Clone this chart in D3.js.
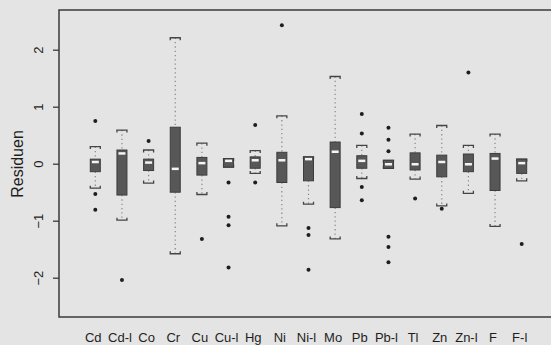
<!DOCTYPE html>
<html>
<head>
<meta charset="utf-8">
<script src="https://d3js.org/d3.v7.min.js"></script>
<style>
  body { margin: 0; background: #e4e4e4; overflow: hidden; }
  svg { display: block; font-family: "Liberation Sans", Arial, sans-serif; }
</style>
</head>
<body>
<script>
// element names along the x axis
var names = ["Cd", "Cd-l", "Co", "Cr", "Cu", "Cu-l", "Hg", "Ni", "Ni-l", "Mo", "Pb", "Pb-l", "Tl", "Zn", "Zn-l", "F", "F-l"];

// box statistics (residuals)
var whiskHi = [0.30, 0.59, 0.24, 2.21, 0.36, 0.09, 0.23, 0.84, 0.12, 1.53, 0.32, 0.06, 0.52, 0.67, 0.32, 0.52, 0.08];
var q3      = [0.08, 0.24, 0.08, 0.64, 0.11, 0.09, 0.12, 0.20, 0.12, 0.38, 0.14, 0.06, 0.19, 0.15, 0.17, 0.18, 0.08];
var med     = [0.03, 0.18, 0.02, -0.09, 0.01, 0.05, 0.06, 0.06, 0.08, 0.21, 0.05, -0.01, -0.01, 0.03, -0.01, 0.09, 0.01];
var q1      = [-0.14, -0.55, -0.12, -0.50, -0.20, -0.06, -0.08, -0.33, -0.30, -0.77, -0.08, -0.08, -0.11, -0.23, -0.14, -0.47, -0.17];
var whiskLo = [-0.43, -0.99, -0.34, -1.58, -0.54, -0.06, -0.17, -1.09, -0.71, -1.32, -0.26, -0.08, -0.27, -0.74, -0.52, -1.10, -0.30];

// outliers per element
var outliers = [
  [0.75, -0.53, -0.81],
  [-2.04],
  [0.40],
  [],
  [-1.32],
  [-0.33, -0.93, -1.08, -1.82],
  [0.68, -0.33],
  [2.43],
  [-1.13, -1.25, -1.86],
  [],
  [0.87, 0.53, -0.41, -0.64],
  [0.63, 0.42, 0.22, -1.28, -1.46, -1.73],
  [-0.61],
  [-0.79],
  [1.60],
  [],
  [-1.41]
];

var yTicks = [-2, -1, 0, 1, 2];

var width = 551, height = 345;
var plotL = 59, plotT = 10, plotB = 317, plotR = 580;

var svg = d3.select("body").append("svg")
  .attr("width", width)
  .attr("height", height);

var x = d3.scaleLinear().domain([1, 17]).range([95.3, 521.7]);
var y = d3.scaleLinear().domain([0, 1]).range([163.7, 106.7]);

var boxW = 10, capW = 10;

// frame (right side runs off the page, as in the scan)
svg.append("path")
  .attr("d", "M" + plotR + "," + plotT + "H" + plotL + "V" + plotB + "H" + plotR)
  .attr("fill", "none").attr("stroke", "#3a3a3a").attr("stroke-width", 1.5);

// y axis
var yAxis = d3.axisLeft(y).tickValues(yTicks).tickSize(6).tickFormat(d3.format("d"));
var ga = svg.append("g").attr("transform", "translate(" + plotL + ",0)").call(yAxis);
ga.select(".domain").remove();
ga.selectAll(".tick line").attr("stroke", "#3a3a3a").attr("stroke-width", 1.3);
ga.selectAll(".tick text")
  .attr("x", 0).attr("dy", 0)
  .attr("transform", "translate(-21,0) rotate(-90)")
  .attr("text-anchor", "middle")
  .attr("dominant-baseline", "central")
  .attr("fill", "#1e1e1e")
  .style("font-size", "13px");

svg.append("text")
  .attr("transform", "translate(17,164) rotate(-90)")
  .attr("text-anchor", "middle")
  .attr("dominant-baseline", "central")
  .attr("fill", "#1e1e1e")
  .style("font-size", "16px")
  .text("Residuen");

// x labels
svg.selectAll("text.xl")
  .data(names)
  .enter().append("text")
  .attr("class", "xl")
  .attr("x", function(d, i) { return x(i + 1) - 2; })
  .attr("y", 337)
  .attr("text-anchor", "middle")
  .attr("dominant-baseline", "central")
  .attr("fill", "#1e1e1e")
  .style("font-size", "13px")
  .text(function(d) { return d; });

var g = svg.selectAll("g.box")
  .data(names)
  .enter().append("g")
  .attr("class", "box")
  .attr("transform", function(d, i) { return "translate(" + x(i + 1) + ",0)"; });

// whiskers (dotted)
g.append("line")
  .attr("y1", function(d, i) { return y(whiskHi[i]); })
  .attr("y2", function(d, i) { return y(q3[i]); })
  .attr("stroke", "#888").attr("stroke-width", 1.2).attr("stroke-dasharray", "1.3,3");
g.append("line")
  .attr("y1", function(d, i) { return y(q1[i]); })
  .attr("y2", function(d, i) { return y(whiskLo[i]); })
  .attr("stroke", "#888").attr("stroke-width", 1.2).attr("stroke-dasharray", "1.3,3");

// staples
g.append("path")
  .attr("d", function(d, i) {
    var t = y(whiskHi[i]);
    return "M" + (-capW / 2) + "," + (t + 2.5) + "V" + t + "H" + (capW / 2) + "V" + (t + 2.5);
  })
  .attr("fill", "none").attr("stroke", "#444").attr("stroke-width", 1.3);
g.append("path")
  .attr("d", function(d, i) {
    var b = y(whiskLo[i]);
    return "M" + (-capW / 2) + "," + (b - 2.5) + "V" + b + "H" + (capW / 2) + "V" + (b - 2.5);
  })
  .attr("fill", "none").attr("stroke", "#444").attr("stroke-width", 1.3);

// boxes
g.append("rect")
  .attr("x", -boxW / 2)
  .attr("y", function(d, i) { return y(q3[i]); })
  .attr("width", boxW)
  .attr("height", function(d, i) { return Math.max(1, y(q1[i]) - y(q3[i])); })
  .attr("fill", "#575757").attr("stroke", "#3c3c3c").attr("stroke-width", 1);

// medians
g.append("line")
  .attr("x1", -boxW / 2 + 1.5).attr("x2", boxW / 2 - 1.5)
  .attr("y1", function(d, i) { return y(med[i]); })
  .attr("y2", function(d, i) { return y(med[i]); })
  .attr("stroke", "#f4f4f4").attr("stroke-width", 2.5);

// outliers
g.selectAll("circle")
  .data(function(d, i) { return outliers[i]; })
  .enter().append("circle")
  .attr("cx", 0)
  .attr("cy", function(v) { return y(v); })
  .attr("r", 2)
  .attr("fill", "#1e1e1e");
</script>
</body>
</html>
